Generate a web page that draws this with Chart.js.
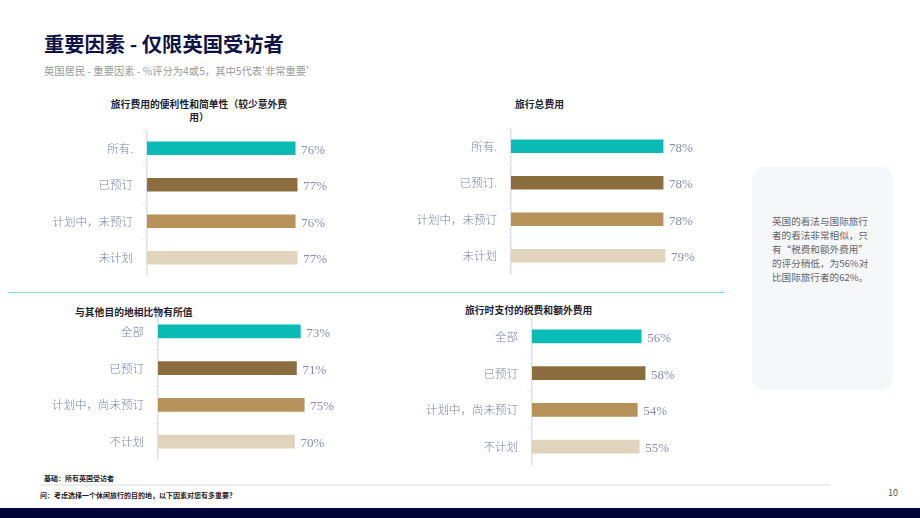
<!DOCTYPE html>
<html lang="zh-CN">
<head>
<meta charset="utf-8">
<script src="https://cdn.jsdelivr.net/npm/chart.js@4.4.1/dist/chart.umd.min.js"></script>
<style>
  html, body {
    margin: 0;
    padding: 0;
    width: 920px;
    height: 518px;
    overflow: hidden;
    background: #FFFFFF;
    font-family: "Noto Sans CJK SC", "Noto Sans", sans-serif;
  }
  .abs { position: absolute; }
  .title {
    left: 44px;
    top: 28px;
    font-size: 20.3px;
    font-weight: 700;
    color: #0E1244;
    white-space: nowrap;
  }
  .subtitle {
    left: 44px;
    top: 63px;
    font-size: 10.3px;
    color: #9A9A9A;
    white-space: nowrap;
  }
  .panel-title {
    font-size: 9.8px;
    font-weight: 700;
    color: #1E1E2E;
    line-height: 13px;
    white-space: nowrap;
  }
  .chart-box { position: absolute; }
  .divider {
    left: 8px;
    top: 292px;
    width: 717px;
    height: 1px;
    background: #86DCD8;
  }
  .note {
    left: 752px;
    top: 167px;
    width: 141px;
    height: 223px;
    border-radius: 12px;
    background: #F6F7F9;
    box-sizing: border-box;
    padding: 47px 0 0 20px;
    font-size: 9.6px;
    line-height: 14px;
    color: #666666;
    white-space: nowrap;
  }
  .foot {
    left: 44px;
    font-size: 7px;
    font-weight: 700;
    color: #222222;
    white-space: nowrap;
  }
  .foot-line {
    left: 40px;
    top: 484px;
    width: 790px;
    height: 2px;
    background: #EEEEEE;
  }
  .page-num {
    left: 888px;
    top: 486px;
    font-size: 9px;
    color: #555555;
  }
  .band {
    left: 0;
    top: 508px;
    width: 920px;
    height: 10px;
    background: #010539;
  }
</style>
</head>
<body>
<div class="abs title">重要因素 - 仅限英国受访者</div>
<div class="abs subtitle">英国居民 - 重要因素 - %评分为4或5，其中5代表'非常重要'</div>

<div class="abs panel-title" style="left:99px; top:98px; width:200px; text-align:center;">旅行费用的便利性和简单性（较少意外费<br>用）</div>
<div class="abs panel-title" style="left:515px; top:98px;">旅行总费用</div>
<div class="abs panel-title" style="left:75px; top:306px;">与其他目的地相比物有所值</div>
<div class="abs panel-title" style="left:465px; top:304px;">旅行时支付的税费和额外费用</div>

<div class="chart-box" style="left:40px; top:130px; width:342px; height:146px;"><canvas id="chartConvenience"></canvas></div>
<div class="chart-box" style="left:400px; top:128px; width:346px; height:146px;"><canvas id="chartTotal"></canvas></div>
<div class="chart-box" style="left:40px; top:313px; width:353px; height:147px;"><canvas id="chartValue"></canvas></div>
<div class="chart-box" style="left:400px; top:318px; width:367px; height:147px;"><canvas id="chartTaxes"></canvas></div>

<div class="abs divider"></div>

<div class="abs note">英国的看法与国际旅行<br>者的看法非常相似，只<br>有“税费和额外费用”<br>的评分稍低，为56%对<br>比国际旅行者的62%。</div>

<div class="abs foot" style="top:473px;">基础：所有英国受访者</div>
<div class="abs foot-line"></div>
<div class="abs foot" style="left:40px; top:490px;">问：考虑选择一个休闲旅行的目的地，以下因素对您有多重要？</div>
<div class="abs page-num">10</div>
<div class="abs band"></div>

<script>
const categoriesConvenience = ["所有.", "已预订", "计划中，未预订", "未计划"];
const categoriesTotal = ["所有.", "已预订.", "计划中，未预订", "未计划"];
const categoriesValue = ["全部", "已预订", "计划中，尚未预订", "不计划"];
const categoriesTaxes = ["全部", "已预订", "计划中，尚未预订", "不计划"];

const valuesConvenience = [76, 77, 76, 77];
const valuesTotal = [78, 78, 78, 79];
const valuesValue = [73, 71, 75, 70];
const valuesTaxes = [56, 58, 54, 55];

const segmentColors = ["#0ABAB5", "#8C6E3E", "#B6925A", "#E1D4BD"];

const valueLabelsPlugin = {
  id: "valueLabels",
  afterDatasetsDraw(chart) {
    const dataset = chart.data.datasets[0];
    const meta = chart.getDatasetMeta(0);
    const { ctx } = chart;

    ctx.save();
    ctx.fillStyle = "#8A8AB0";
    ctx.font = '13px "Liberation Serif", serif';
    ctx.textAlign = "left";
    ctx.textBaseline = "middle";

    meta.data.forEach((bar, index) => {
      ctx.fillText(`${dataset.data[index]}%`, bar.x + 6, bar.y + 2);
    });

    ctx.restore();
  },
};

function createPanelChart(canvasId, labels, values, axisWidth) {
  const canvas = document.getElementById(canvasId);

  return new Chart(canvas, {
    type: "bar",
    plugins: [valueLabelsPlugin],
    data: {
      labels: labels,
      datasets: [
        {
          data: values,
          backgroundColor: segmentColors,
          borderWidth: 0,
          barThickness: 13,
        },
      ],
    },
    options: {
      indexAxis: "y",
      responsive: true,
      maintainAspectRatio: false,
      animation: false,
      layout: {
        padding: {
          top: 0,
          right: 40,
          bottom: 0,
          left: 0,
        },
      },
      plugins: {
        legend: {
          display: false,
        },
        tooltip: {
          enabled: false,
        },
      },
      scales: {
        x: {
          display: false,
          min: 0,
          max: 100,
        },
        y: {
          afterFit(scale) {
            // fixed axis width and no label overhang, so the bars line up with the page
            scale.width = axisWidth;
            scale.paddingTop = 0;
            scale.paddingBottom = 0;
          },
          border: {
            display: true,
            color: "#DEDEEE",
            width: 1.5,
          },
          grid: {
            drawOnChartArea: false,
            drawTicks: true,
            tickLength: 5,
            color: "#ECECF5",
          },
          ticks: {
            color: "#7C7CAA",
            padding: 9,
            font: {
              family: '"Noto Sans CJK SC", sans-serif',
              size: 11.5,
              weight: 300,
            },
          },
        },
      },
    },
  });
}

createPanelChart("chartConvenience", categoriesConvenience, valuesConvenience, 107);
createPanelChart("chartTotal", categoriesTotal, valuesTotal, 111);
createPanelChart("chartValue", categoriesValue, valuesValue, 118);
createPanelChart("chartTaxes", categoriesTaxes, valuesTaxes, 132);
</script>
</body>
</html>
